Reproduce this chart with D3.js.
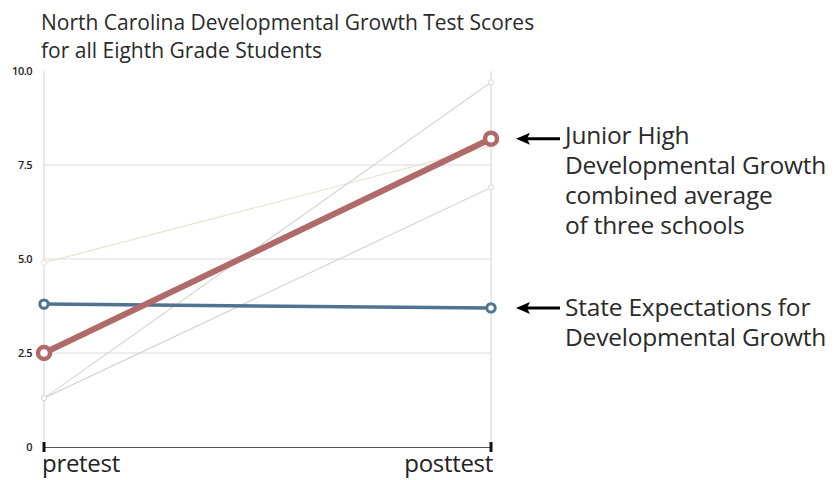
<!DOCTYPE html>
<html><head><meta charset="utf-8">
<script src="https://cdn.jsdelivr.net/npm/d3@7"></script>
<style>body{margin:0;background:#fff}svg{display:block}text{font-family:"Open Sans",sans-serif}</style>
</head><body>
<svg id="c" width="836" height="480"></svg>
<script>
const categories = ["pretest", "posttest"];
const yTicks = [0, 2.5, 5.0, 7.5, 10.0];
const yTickLabels = ["0", "2.5", "5.0", "7.5", "10.0"];
const schoolA = [1.3, 9.7];
const schoolB = [1.3, 6.9];
const schoolC = [4.9, 8.0];
const juniorHigh = [2.5, 8.2];
const stateExpect = [3.8, 3.7];
const titleLines = ["North Carolina Developmental Growth Test Scores", "for all Eighth Grade Students"];
const juniorLabel = ["Junior High", "Developmental Growth", "combined average", "of three schools"];
const stateLabel = ["State Expectations for", "Developmental Growth"];

const svg = d3.select("#c");
const x = d3.scalePoint().domain(categories).range([44, 491]);
const y = d3.scaleLinear().domain([0, 10]).range([447, 71]);

// title
svg.append("g").selectAll("text").data(titleLines).join("text")
  .attr("x", 41).attr("y", (d, i) => 30 + i * 28)
  .attr("font-family", "Lato").attr("font-size", 21).attr("fill", "#2a2a2a").attr("letter-spacing", 0).text(d => d);

// gridlines
svg.append("g").selectAll("line").data(yTicks.filter(t => t > 0 && t < 10)).join("line")
  .attr("x1", x("pretest")).attr("x2", x("posttest"))
  .attr("y1", d => y(d)).attr("y2", d => y(d))
  .attr("stroke", "#dadada").attr("stroke-width", 1);
svg.append("g").selectAll("line").data(categories).join("line")
  .attr("x1", d => x(d)).attr("x2", d => x(d))
  .attr("y1", y(10)).attr("y2", y(0))
  .attr("stroke", "#e2e2e2").attr("stroke-width", 1.5);

// y labels
svg.append("g").selectAll("text").data(yTicks).join("text")
  .attr("x", 32).attr("y", d => y(d) + 4).attr("text-anchor", "end")
  .attr("font-size", 11).attr("font-weight", 600).attr("fill", "#222").attr("letter-spacing", -0.5)
  .text((d, i) => yTickLabels[i]);

// x axis
const xAxis = d3.axisBottom(x).tickSize(0).tickFormat("");
const ga = svg.append("g").attr("transform", `translate(0,${y(0)})`).call(xAxis);
ga.select(".domain").attr("stroke", "#555").attr("stroke-width", 1.2);
svg.append("g").selectAll("line").data(categories).join("line")
  .attr("x1", d => x(d)).attr("x2", d => x(d))
  .attr("y1", y(0) - 5).attr("y2", y(0) + 5)
  .attr("stroke", "#111").attr("stroke-width", 3);
svg.append("g").selectAll("text").data(categories).join("text")
  .attr("x", d => x(d) + (d === "pretest" ? -2 : 2))
  .attr("y", 472).attr("text-anchor", d => d === "pretest" ? "start" : "end")
  .attr("font-size", 24).attr("fill", "#222").attr("letter-spacing", -0.3).text(d => d);

// series
const series = [
  {v: schoolC, color: "#e9e2cf", w: 1.2, r: 2.6, sw: 1},
  {v: schoolA, color: "#d6d6d6", w: 1.2, r: 2.6, sw: 1},
  {v: schoolB, color: "#d6d6d6", w: 1.2, r: 2.6, sw: 1},
  {v: stateExpect, color: "#4f7391", w: 3.5, r: 4.2, sw: 3},
  {v: juniorHigh, color: "#b06a6a", w: 6, r: 6, sw: 4.5}
];
const line = d3.line().x((d, i) => x(categories[i])).y(d => y(d));
series.forEach(s => {
  svg.append("path").datum(s.v).attr("d", line)
    .attr("fill", "none").attr("stroke", s.color).attr("stroke-width", s.w);
  svg.append("g").selectAll("circle").data(s.v).join("circle")
    .attr("cx", (d, i) => x(categories[i])).attr("cy", d => y(d)).attr("r", s.r)
    .attr("fill", "#fff").attr("stroke", s.color).attr("stroke-width", s.sw);
});

// annotations
function arrow(yv) {
  const yy = y(yv);
  svg.append("line").attr("x1", 524).attr("x2", 560).attr("y1", yy).attr("y2", yy)
    .attr("stroke", "#000").attr("stroke-width", 3);
  svg.append("path").attr("d", `M516,${yy} L530,${yy - 6} L527,${yy} L530,${yy + 6} Z`).attr("fill", "#000");
}
arrow(juniorHigh[1]);
arrow(stateExpect[1]);
svg.append("g").selectAll("text").data(juniorLabel).join("text")
  .attr("x", 565).attr("y", (d, i) => 144 + i * 30)
  .attr("font-family", "Lato").attr("font-size", 24.5).attr("fill", "#2a2a2a").attr("letter-spacing", -0.2).text(d => d);
svg.append("g").selectAll("text").data(stateLabel).join("text")
  .attr("x", 565).attr("y", (d, i) => 316 + i * 30)
  .attr("font-family", "Lato").attr("font-size", 24.5).attr("fill", "#2a2a2a").attr("letter-spacing", -0.2).text(d => d);
</script>
</body></html>
